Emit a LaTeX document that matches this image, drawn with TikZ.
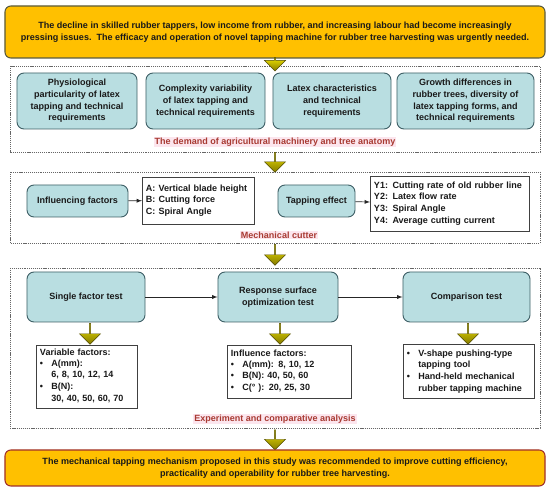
\documentclass[tikz,border=0pt]{standalone}
\usepackage{fontspec}
\setmainfont{Liberation Sans}
\usepackage{xcolor}
\usetikzlibrary{shapes.arrows}
\definecolor{gold}{HTML}{FFC000}
\definecolor{goldline}{HTML}{5A5A3C}
\definecolor{endline}{HTML}{A0302A}
\definecolor{teal}{HTML}{B9DEE1}
\definecolor{tealline}{HTML}{3E5F66}
\definecolor{capred}{HTML}{A83A32}
\definecolor{cappink}{HTML}{FCE6EE}
\definecolor{olive}{HTML}{847A00}
\definecolor{lemon}{HTML}{F0E400}
\tikzset{
  every node/.style={
    text=black!90,
    font=\fontsize{7.7}{10}\selectfont\bfseries
  },
  goal/.style={
    draw=goldline, fill=gold, line width=0.9pt, rounded corners=5pt,
    align=center, inner sep=2pt
  },
  topic/.style={
    draw=tealline, fill=teal, line width=0.8pt, rounded corners=6pt,
    align=center, inner sep=2pt
  },
  plain/.style={
    draw=black!75, fill=white, line width=0.8pt, align=left,
    inner sep=3pt, text width=#1
  },
  frame/.style={
    draw=black!60, line width=0.7pt, dash pattern=on 1pt off 0.8pt
  },
  caption/.style={
    text=capred, fill=cappink, inner sep=1pt
  },
  bigarrow/.style={
    single arrow, draw=olive!60!black, line width=0.4pt,
    top color=lemon, bottom color=olive, shading angle=0,
    shape border rotate=270, minimum width=0.63cm,
    single arrow head extend=0.135cm, minimum height=0.63cm, inner sep=0pt
  },
  link/.style={-latex, black!85, line width=0.6pt}
}

\begin{document}
\begin{tikzpicture}[x=0.03cm,y=-0.03cm]
    %\draw[gray, very thin] (0,0) grid[step=50] (550,489);
    \useasboundingbox (0,0) rectangle (550,489);

    % problem statement
    \node[goal, minimum width=16.2cm, minimum height=1.56cm] (problem) at (275,32)
      {The decline in skilled rubber tappers, low income from rubber, and increasing labour had become increasingly\\
       pressing issues.\ \ The efficacy and operation of novel tapping machine for rubber tree harvesting was urgently needed.};

    % demand
    \draw[frame] (10,66) rectangle (540,152);
    \node[bigarrow, minimum height=0.4cm] (a1) at (275,64) {};
    \node[topic, minimum width=3.6cm, minimum height=1.68cm] (phys) at (77,101)
      {Physiological\\particularity of latex\\tapping and technical\\requirements};
    \node[topic, minimum width=3.57cm, minimum height=1.68cm] (comp) at (205.5,101)
      {Complexity variability\\of latex tapping and\\technical requirements};
    \node[topic, minimum width=3.54cm, minimum height=1.68cm] (latex) at (332,101)
      {Latex characteristics\\and technical\\requirements};
    \node[topic, minimum width=4.11cm, minimum height=1.68cm] (growth) at (465.5,101)
      {Growth differences in\\rubber trees, diversity of\\latex tapping forms, and\\technical requirements};
    \node[caption] (cap1) at (275,142) {The demand of agricultural machinery and tree anatomy};

    % mechanical cutter
    \node[bigarrow, minimum height=0.6cm] (a2) at (275,162) {};
    \draw[frame] (10,172) rectangle (540,243);
    \node[topic, minimum width=3.03cm, minimum height=0.96cm] (infl) at (77.5,201) {Influencing factors};
    \node[plain=3.15cm, minimum height=1.41cm, anchor=west] (abc) at (142,200.5)
      {A: Vertical blade height\\B: Cutting force\\C: Spiral Angle};
    \node[topic, minimum width=2.31cm, minimum height=0.96cm] (eff) at (316.5,201) {Tapping effect};
    \node[plain=4.56cm, minimum height=1.65cm, anchor=west] (ys) at (370,203.5)
      {Y1: Cutting rate of old rubber line\\Y2: Latex flow rate\\Y3: Spiral Angle\\Y4: Average cutting current};
    \draw[link] (infl) -- (abc);
    \draw[link] (eff) -- (ys);
    \node[caption] (cap2) at (279,235) {Mechanical cutter};

    % experiments
    \node[bigarrow] (a3) at (275,254.5) {};
    \draw[frame] (10,268) rectangle (540,428);
    \node[topic, minimum width=3.54cm, minimum height=1.5cm] (single) at (86,297) {Single factor test};
    \node[topic, minimum width=3.6cm, minimum height=1.5cm] (resp) at (278,297) {Response surface\\optimization test};
    \node[topic, minimum width=3.81cm, minimum height=1.5cm] (cmp) at (466.5,297) {Comparison test};
    \draw[link] (single) -- (resp);
    \draw[link] (resp) -- (cmp);
    \node[bigarrow] (a4) at (90,333.5) {};
    \node[bigarrow] (a5) at (280,333.5) {};
    \node[bigarrow] (a6) at (468,333.5) {};
    \node[plain=2.82cm, minimum height=1.83cm, anchor=north west] (var) at (36,345)
      {Variable factors:\\[1pt]
       \begin{tabular}{@{}l@{\hspace{0.9em}}l@{}}
       \textbullet & A(mm):\\
                   & 6, 8, 10, 12, 14\\
       \textbullet & B(N):\\
                   & 30, 40, 50, 60, 70
       \end{tabular}};
    \node[plain=3.51cm, minimum height=1.59cm, anchor=north west] (inf) at (227,345)
      {Influence factors:\\[1pt]
       \begin{tabular}{@{}l@{\hspace{0.9em}}l@{}}
       \textbullet & A(mm): 8, 10, 12\\
       \textbullet & B(N): 40, 50, 60\\
       \textbullet & C(°\ ): 20, 25, 30
       \end{tabular}};
    \node[plain=3.72cm, minimum height=1.59cm, anchor=north west] (tools) at (403,344)
      {\begin{tabular}{@{}l@{\hspace{0.9em}}l@{}}
       \textbullet & V-shape pushing-type\\
                   & tapping tool\\
       \textbullet & Hand-held mechanical\\
                   & rubber tapping machine
       \end{tabular}};
    \node[caption] (cap3) at (275,419) {Experiment and comparative analysis};

    % conclusion
    \node[bigarrow, minimum height=0.6cm] (a7) at (275,439.5) {};
    \node[goal, draw=endline, minimum width=16.2cm, minimum height=1.08cm] (result) at (275,468)
      {The mechanical tapping mechanism proposed in this study was recommended to improve cutting efficiency,\\
       practicality and operability for rubber tree harvesting.};

\end{tikzpicture}
\end{document}
